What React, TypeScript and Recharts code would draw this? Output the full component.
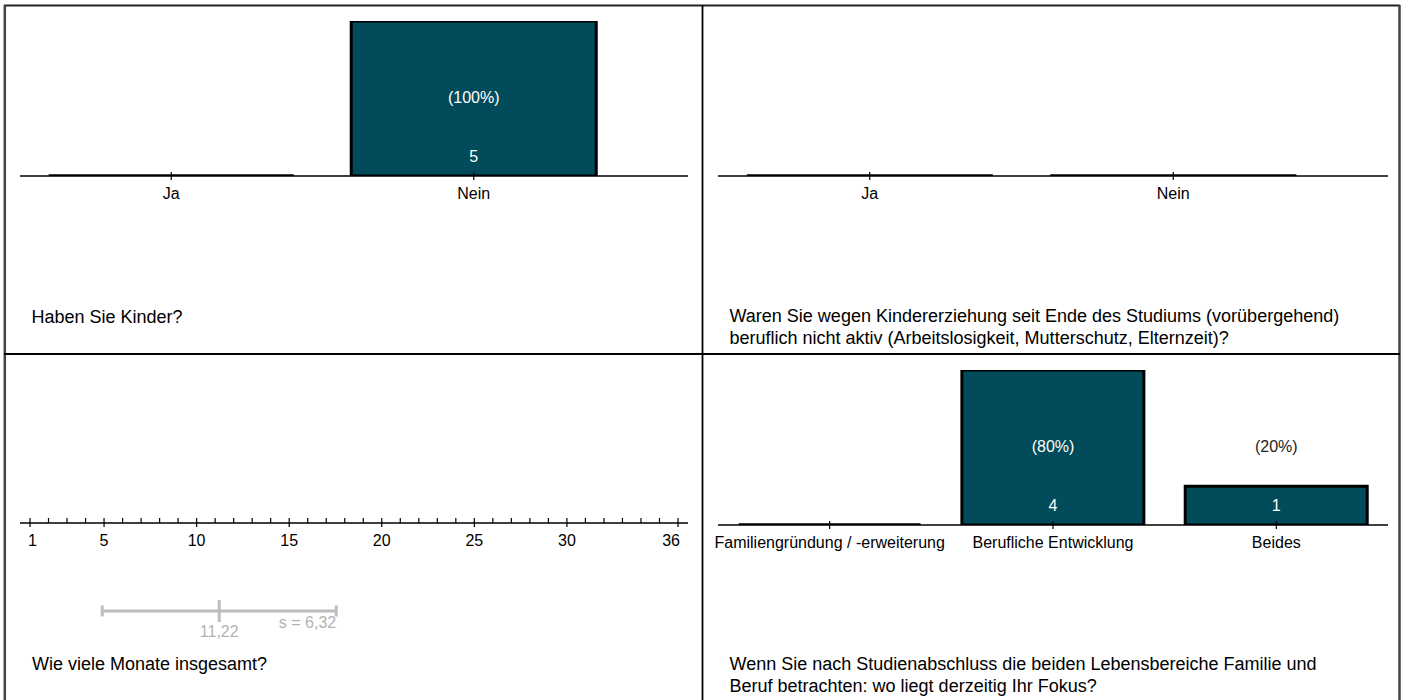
import React from 'react';
import {
  ComposedChart,
  Bar,
  Line,
  XAxis,
  YAxis,
  LabelList,
  ScatterChart,
  Scatter,
  ErrorBar,
} from 'recharts';

const FONT = '"Liberation Sans", Arial, Helvetica, sans-serif';
const BAR_FILL = '#024b5a';
const GREY_LINE = '#bdbdbd';
const GREY_TEXT = '#b3b3b3';

// ---------- Panel 1: Haben Sie Kinder? ----------
const kinderCategories = ['Ja', 'Nein'];
const kinderCounts = [0, 5];
const kinderPercents = [0, 100];
const kinderTitle = ['Haben Sie Kinder?'];

// ---------- Panel 2: beruflich nicht aktiv ----------
const inaktivCategories = ['Ja', 'Nein'];
const inaktivCounts = [0, 0];
const inaktivPercents = [0, 0];
const inaktivTitle = [
  'Waren Sie wegen Kindererziehung seit Ende des Studiums (vorübergehend)',
  'beruflich nicht aktiv (Arbeitslosigkeit, Mutterschutz, Elternzeit)?',
];

// ---------- Panel 3: Monate ----------
const monateTicks = [
  1, 2, 3, 4, 5, 6, 7, 8, 9, 10, 11, 12, 13, 14, 15, 16, 17, 18,
  19, 20, 21, 22, 23, 24, 25, 26, 27, 28, 29, 30, 31, 32, 33, 34, 35, 36,
];
const monateLabelTicks = [1, 5, 10, 15, 20, 25, 30, 36];
const monateMean = 11.22;
const monateSd = 6.32;
const monateTitle = ['Wie viele Monate insgesamt?'];

// ---------- Panel 4: Fokus ----------
const fokusCategories = ['Familiengründung / -erweiterung', 'Berufliche Entwicklung', 'Beides'];
const fokusCounts = [0, 4, 1];
const fokusPercents = [0, 80, 20];
const fokusTitle = [
  'Wenn Sie nach Studienabschluss die beiden Lebensbereiche Familie und',
  'Beruf betrachten: wo liegt derzeitig Ihr Fokus?',
];

const fmtDe = (v: number) => v.toFixed(2).replace('.', ',');

type Row = { cat: string; n: number; pct: number; level: number };

const buildRows = (cats: string[], counts: number[], pcts: number[]): Row[] => {
  const yMax = Math.max(1, ...counts);
  return cats.map((c, i) => ({ cat: c, n: counts[i], pct: pcts[i], level: yMax / 2 }));
};

const BarShape = (props: any) => {
  const { x, y, width, height } = props;
  if (![x, y, width, height].every((v) => Number.isFinite(v))) return null;
  if (Math.abs(height) < 0.5) {
    return <line x1={x} x2={x + width} y1={y} y2={y} stroke="#000" strokeWidth={3.5} />;
  }
  return (
    <path
      d={`M${x},${y}h${width}v${height}h${-width}Z`}
      fill={BAR_FILL}
      stroke="#000"
      strokeWidth={3}
      strokeLinejoin="miter"
    />
  );
};

const CategoryTick = (props: any) => {
  const { x, y, payload } = props;
  return (
    <g>
      <line x1={x} x2={x} y1={y - 4} y2={y + 4} stroke="#000" strokeWidth={1.2} />
      <text x={x} y={y + 23} textAnchor="middle" fontSize={16} fill="#000" fontFamily={FONT}>
        {payload.value}
      </text>
    </g>
  );
};

type BarPanelProps = {
  left: number;
  top: number;
  width: number;
  height: number;
  margin: { top: number; right: number; bottom: number; left: number };
  padRight: number;
  gap: string;
  categories: string[];
  counts: number[];
  percents: number[];
};

const BarPanel = (p: BarPanelProps) => {
  const rows = buildRows(p.categories, p.counts, p.percents);
  const yMax = Math.max(1, ...p.counts);
  const pctContent = (lp: any) => {
    const { x, y, index } = lp;
    const r = rows[index];
    if (!r || r.pct <= 0) return null;
    return (
      <text
        x={x}
        y={y + 4}
        textAnchor="middle"
        fontSize={16}
        fontFamily={FONT}
        fill={r.n >= r.level ? '#ffffff' : '#222222'}
      >
        {`(${r.pct}%)`}
      </text>
    );
  };
  const countContent = (lp: any) => {
    const { x, y, width, height, value } = lp;
    if (!value || value <= 0) return null;
    return (
      <text
        x={x + width / 2}
        y={y + height - 14}
        textAnchor="middle"
        fontSize={16}
        fontFamily={FONT}
        fill="#ffffff"
      >
        {value}
      </text>
    );
  };
  return (
    <div style={{ position: 'absolute', left: p.left, top: p.top, width: p.width, height: p.height }}>
      <ComposedChart
        width={p.width}
        height={p.height}
        data={rows}
        margin={p.margin}
        barCategoryGap={p.gap}
      >
        <XAxis
          dataKey="cat"
          type="category"
          height={30}
          padding={{ left: 0, right: p.padRight }}
          interval={0}
          tickSize={0}
          tickMargin={0}
          tickLine={false}
          axisLine={{ stroke: '#000', strokeWidth: 1.3 }}
          tick={CategoryTick}
        />
        <YAxis type="number" domain={[0, yMax]} allowDataOverflow hide />
        <Bar dataKey="n" shape={BarShape} isAnimationActive={false}>
          <LabelList dataKey="n" content={countContent} />
        </Bar>
        <Line
          dataKey="level"
          stroke="none"
          dot={false}
          activeDot={false}
          isAnimationActive={false}
        >
          <LabelList dataKey="pct" content={pctContent} />
        </Line>
      </ComposedChart>
    </div>
  );
};

const MonthTick = (props: any) => {
  const { x, y, payload } = props;
  const v = payload.value as number;
  const major = monateLabelTicks.includes(v);
  const first = v === monateLabelTicks[0];
  const last = v === monateLabelTicks[monateLabelTicks.length - 1];
  return (
    <g>
      <line x1={x} x2={x} y1={y - 5} y2={major ? y + 4 : y} stroke="#000" strokeWidth={1.2} />
      {major && (
        <text
          x={first ? x - 2 : last ? x + 2 : x}
          y={y + 23}
          textAnchor={first ? 'start' : last ? 'end' : 'middle'}
          fontSize={16}
          fill="#000"
          fontFamily={FONT}
        >
          {v}
        </text>
      )}
    </g>
  );
};

const meanRows = [{ x: monateMean, y: 0, sd: monateSd }];
const sdEndRows = [{ x: monateMean + monateSd, y: 0 }];

const MeanShape = (props: any) => {
  const { cx, cy } = props;
  return (
    <g>
      <line x1={cx} x2={cx} y1={cy - 11} y2={cy + 11} stroke={GREY_LINE} strokeWidth={3} />
      <text x={cx} y={cy + 26} textAnchor="middle" fontSize={16} fill={GREY_TEXT} fontFamily={FONT}>
        {fmtDe(monateMean)}
      </text>
    </g>
  );
};

const SdLabelShape = (props: any) => {
  const { cx, cy } = props;
  return (
    <text x={cx} y={cy + 17} textAnchor="end" fontSize={16} fill={GREY_TEXT} fontFamily={FONT}>
      {`s = ${fmtDe(monateSd)}`}
    </text>
  );
};

const MonatePanel = () => (
  <div style={{ position: 'absolute', left: 0, top: 354, width: 702, height: 346 }}>
    <ScatterChart width={702} height={346} margin={{ top: 139, right: 14, bottom: 1, left: 20 }}>
      <XAxis
        type="number"
        dataKey="x"
        orientation="top"
        domain={[1, 36]}
        allowDataOverflow
        ticks={monateTicks}
        interval={0}
        padding={{ left: 10, right: 10 }}
        height={30}
        tickSize={0}
        tickMargin={0}
        tickLine={false}
        axisLine={{ stroke: '#000', strokeWidth: 1.3 }}
        tick={MonthTick}
      />
      <YAxis type="number" dataKey="y" domain={[-1, 1]} allowDataOverflow hide />
      <Scatter data={meanRows} shape={MeanShape} isAnimationActive={false}>
        <ErrorBar
          dataKey="sd"
          direction="x"
          width={5.5}
          stroke={GREY_LINE}
          strokeWidth={3}
          isAnimationActive={false}
        />
      </Scatter>
      <Scatter data={sdEndRows} shape={SdLabelShape} isAnimationActive={false} />
    </ScatterChart>
  </div>
);

const Title = ({ x, y, lines }: { x: number; y: number; lines: string[] }) => (
  <>
    {lines.map((l, i) => (
      <text key={i} x={x} y={y + i * 22} fontSize={18} fill="#000" fontFamily={FONT}>
        {l}
      </text>
    ))}
  </>
);

export default function App() {
  return (
    <div
      style={{
        position: 'absolute',
        left: 0,
        top: 0,
        width: 1404,
        height: 700,
        background: '#fff',
        fontFamily: FONT,
        overflow: 'hidden',
      }}
    >
      <svg width={1404} height={700} style={{ position: 'absolute', left: 0, top: 0 }}>
        <line x1={4} x2={1400} y1={5.5} y2={5.5} stroke="#222" strokeWidth={1.8} />
        <line x1={4.8} x2={4.8} y1={5} y2={700} stroke="#444" strokeWidth={2.5} />
        <line x1={1399.5} x2={1399.5} y1={5} y2={700} stroke="#444" strokeWidth={2.5} />
        <line x1={702.5} x2={702.5} y1={5} y2={700} stroke="#000" strokeWidth={1.8} />
        <line x1={4} x2={1400} y1={354} y2={354} stroke="#000" strokeWidth={1.8} />
        <Title x={31.5} y={322.5} lines={kinderTitle} />
        <Title x={729.5} y={321.7} lines={inaktivTitle} />
        <Title x={32} y={670} lines={monateTitle} />
        <Title x={729.5} y={670} lines={fokusTitle} />
      </svg>
      <BarPanel
        left={0}
        top={0}
        width={702}
        height={354}
        margin={{ top: 21, right: 14, bottom: 148, left: 20 }}
        padRight={63}
        gap="9.5%"
        categories={kinderCategories}
        counts={kinderCounts}
        percents={kinderPercents}
      />
      <BarPanel
        left={702}
        top={0}
        width={702}
        height={354}
        margin={{ top: 21, right: 16, bottom: 148, left: 16 }}
        padRight={63}
        gap="9.5%"
        categories={inaktivCategories}
        counts={inaktivCounts}
        percents={inaktivPercents}
      />
      <MonatePanel />
      <BarPanel
        left={702}
        top={354}
        width={702}
        height={346}
        margin={{ top: 16, right: 16, bottom: 145, left: 16 }}
        padRight={0}
        gap="9.2%"
        categories={fokusCategories}
        counts={fokusCounts}
        percents={fokusPercents}
      />
    </div>
  );
}
